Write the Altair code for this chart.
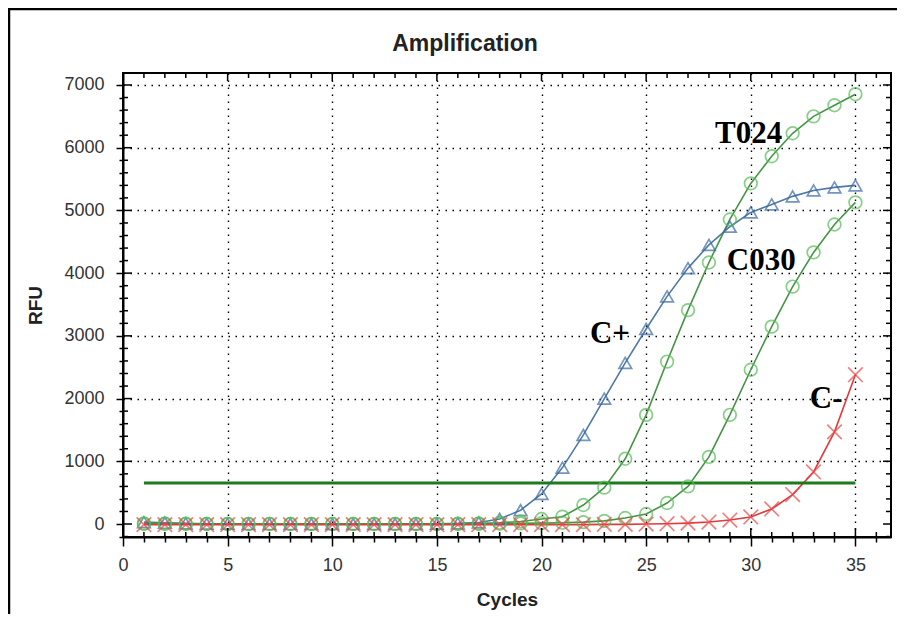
import altair as alt
import pandas as pd

# ---------------- data ----------------
cycles = list(range(1, 36))
series_names = ["C+", "T024", "C030", "C-"]

c_plus = [30, 20, 10, 5, 5, 0, 0, 0, 0, 0, 0, 0, 0, 0, 5, 10, 25, 80, 220, 480,
          900, 1420, 2000, 2570, 3110, 3630, 4080, 4450, 4740, 4968, 5096, 5224, 5319, 5367, 5399]
t024 = [10, 10, 5, 0, 0, 0, 0, 0, 0, 0, 0, 0, 0, 0, 0, 5, 10, 20, 40, 80,
        117, 303, 580, 1040, 1740, 2590, 3410, 4170, 4856, 5431, 5863, 6230, 6500, 6677, 6853]
c030 = [0, 0, 0, 0, 0, 0, 0, 0, 0, 0, 0, 0, 0, 0, 0, 0, 0, 5, 10, 15,
        20, 30, 50, 96, 160, 335, 600, 1070, 1741, 2460, 3147, 3786, 4330, 4776, 5128]
c_minus = [-10, -10, -10, -10, -10, -10, -10, -10, -10, -10, -10, -10, -10, -10, -10, -10, -10, -10, -10, -10,
           -10, -10, -5, -5, 0, 5, 15, 32, 64, 112, 240, 470, 830, 1470, 2380]

threshold_rfu = [655]
threshold_from = [1]
threshold_to = [35]

label_text = ["T024", "C030", "C+", "C-"]
label_x = [29.9, 30.5, 23.27, 33.6]
label_y = [6076, 4050, 2886, 1850]

x_tick_values = list(range(0, 37))
y_tick_values = list(range(-200, 7001, 200))
x_major_ticks = [v for v in x_tick_values if v % 5 == 0]
x_minor_ticks = [v for v in x_tick_values if v % 5 != 0]
y_major_ticks = [v for v in y_tick_values if v % 1000 == 0]
y_minor_ticks = [v for v in y_tick_values if v % 1000 != 0]

line_colors = ["#4d79a6", "#459445", "#459445", "#e03a3a"]
marker_colors = ["#3a6aa3", "#55bb55", "#55bb55", "#e84a4a"]
marker_shapes = ["triangle-up", "circle", "circle", "M-1.15,-1.15L1.15,1.15M-1.15,1.15L1.15,-1.15"]

# ---------------- tables ----------------
rows = []
for name, vals in zip(series_names, [c_plus, t024, c030, c_minus]):
    for c, v in zip(cycles, vals):
        rows.append({"cycle": c, "rfu": v, "series": name})
df = pd.DataFrame(rows)

thr = pd.DataFrame({"x": threshold_from, "x2": threshold_to, "y": threshold_rfu})
labels = pd.DataFrame({"text": label_text, "x": label_x, "y": label_y})
one = pd.DataFrame({"a": [0]})
xmaj = pd.DataFrame({"v": x_major_ticks})
xmin = pd.DataFrame({"v": x_minor_ticks})
ymaj = pd.DataFrame({"v": y_major_ticks})
ymin = pd.DataFrame({"v": y_minor_ticks})

W, H = 768, 464
xs = alt.Scale(domain=[0, 36.7], nice=False, zero=False)
ys = alt.Scale(domain=[-207, 7191], nice=False, zero=False)

FONT = "Liberation Sans"
x_major = "datum.value % 5 === 0"
y_major = "datum.value % 1000 === 0"

x_main = alt.Axis(
    values=x_tick_values, format="d",
    labelExpr=f"{x_major} ? datum.label : ''",
    labelFlush=False, labelOverlap=False,
    labelFont=FONT, labelFontSize=18, labelColor="#333", labelPadding=10,
    tickColor="black", tickWidth=1.5,
    tickSize={"condition": {"test": x_major, "value": 9}, "value": 5},
    domainColor="black", domainWidth=2,
    grid=True, gridColor="black", gridDash=[1.5, 5.5], gridWidth=1.4,
    gridOpacity={"condition": {"test": f"{x_major} && datum.value > 0", "value": 1}, "value": 0},
    title="Cycles", titleFont=FONT, titleFontSize=19, titleFontWeight="bold",
    titleColor="#222", titlePadding=16,
)
y_main = alt.Axis(
    values=y_tick_values, format="d",
    labelExpr=f"{y_major} ? datum.label : ''",
    labelFlush=False, labelOverlap=False,
    labelFont=FONT, labelFontSize=18, labelColor="#333", labelPadding=12,
    tickColor="black", tickWidth=1.5,
    tickSize={"condition": {"test": y_major, "value": 7}, "value": 4},
    domainColor="black", domainWidth=2,
    grid=True, gridColor="black", gridDash=[1.5, 5.5], gridWidth=1.4,
    gridOpacity={"condition": {"test": f"{y_major} && datum.value > 0", "value": 1}, "value": 0},
    title="RFU", titleFont=FONT, titleFontSize=19, titleFontWeight="bold",
    titleColor="#222", titlePadding=18,
)

line = alt.Chart(df).mark_line(strokeWidth=1.6).encode(
    x=alt.X("cycle:Q", scale=xs, axis=x_main),
    y=alt.Y("rfu:Q", scale=ys, axis=y_main),
    color=alt.Color("series:N", scale=alt.Scale(domain=series_names, range=line_colors), legend=None),
    detail="series:N",
)

points = alt.Chart(df).mark_point(filled=False, size=160, strokeWidth=1.7).encode(
    x=alt.X("cycle:Q", scale=xs, axis=None),
    y=alt.Y("rfu:Q", scale=ys, axis=None),
    stroke=alt.Stroke("series:N", scale=alt.Scale(domain=series_names, range=marker_colors), legend=None),
    shape=alt.Shape("series:N", scale=alt.Scale(domain=series_names, range=marker_shapes), legend=None),
)

threshold = alt.Chart(thr).mark_rule(color="#1d7a1d", strokeWidth=3).encode(
    x=alt.X("x:Q", scale=xs, axis=None),
    x2="x2:Q",
    y=alt.Y("y:Q", scale=ys, axis=None),
)

text = alt.Chart(labels).mark_text(
    font="Liberation Serif", fontWeight="bold", fontSize=31, color="black",
    align="center", baseline="alphabetic",
).encode(
    x=alt.X("x:Q", scale=xs, axis=None),
    y=alt.Y("y:Q", scale=ys, axis=None),
    text="text:N",
)


# inward ticks drawn as short rules at the tick values
def xticks(data, y0, y1):
    return alt.Chart(data).mark_rule(color="black", strokeWidth=1.5).encode(
        x=alt.X("v:Q", scale=xs, axis=None), y=alt.value(y0), y2=alt.value(y1))


def yticks(data, x0, x1):
    return alt.Chart(data).mark_rule(color="black", strokeWidth=1.5).encode(
        y=alt.Y("v:Q", scale=ys, axis=None), x=alt.value(x0), x2=alt.value(x1))


inner_ticks = [
    xticks(xmaj, H, H - 9), xticks(xmin, H, H - 5),
    xticks(xmaj, 0, 8), xticks(xmin, 0, 5),
    yticks(ymaj, 0, 9), yticks(ymin, 0, 5),
    yticks(ymaj, W, W - 8), yticks(ymin, W, W - 5),
]

title = alt.Chart(one).mark_text(
    text="Amplification", font=FONT, fontSize=23, fontWeight="bold", color="#222",
    align="center", baseline="alphabetic",
).encode(x=alt.value(342), y=alt.value(-22))

frame_top = alt.Chart(one).mark_rule(color="black", strokeWidth=2.5).encode(
    x=alt.value(-115), x2=alt.value(790), y=alt.value(-64))
frame_left = alt.Chart(one).mark_rule(color="black", strokeWidth=2.5).encode(
    x=alt.value(-114), y=alt.value(-64), y2=alt.value(560))

chart = alt.layer(
    line, threshold, points, text, *inner_ticks, title, frame_top, frame_left
).resolve_axis(x="independent", y="independent").properties(
    width=W, height=H,
    autosize=alt.AutoSizeParams(type="none"),
    padding={"left": 115, "top": 65, "right": 6, "bottom": 77},
    background="white",
).configure_view(stroke="black", strokeWidth=2)

chart.save("out.html", embed_options={"renderer": "svg", "actions": False})
